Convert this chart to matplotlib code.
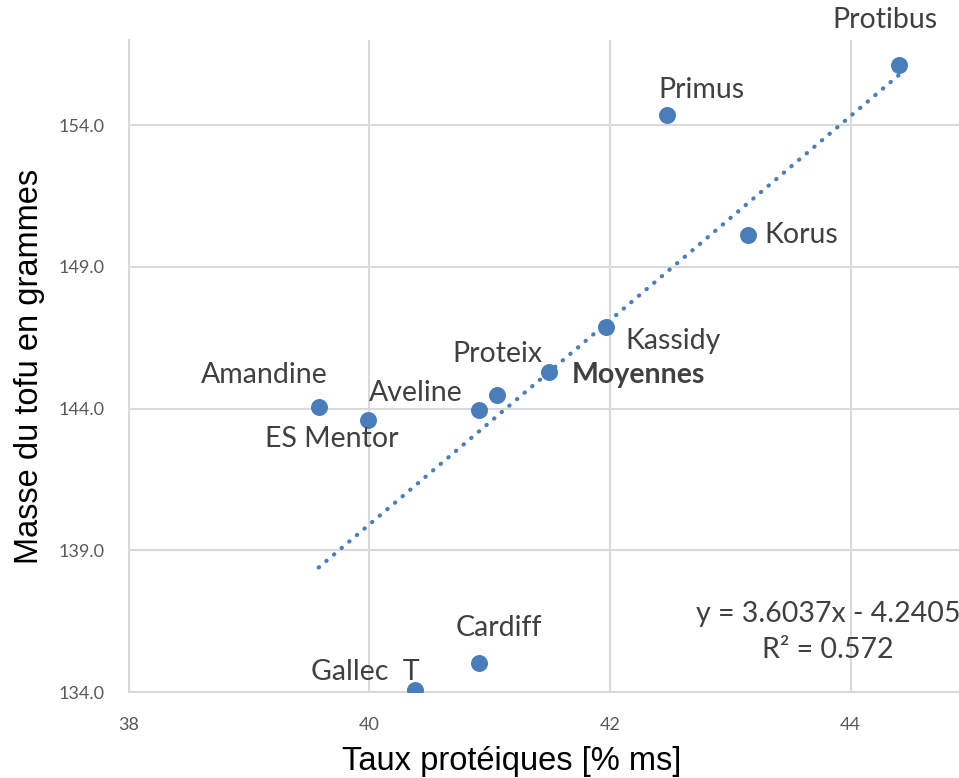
import matplotlib.pyplot as plt
import numpy as np

# variétés de soja
noms = ['Protibus', 'Primus', 'Korus', 'Kassidy', 'Moyennes', 'Proteix',
        'Aveline', 'Amandine', 'ES Mentor', 'Cardiff', 'Gallec  T']
# taux protéiques [% ms]
proteines = [44.40, 42.47, 43.15, 41.97, 41.49, 41.06, 40.91, 39.58, 39.99, 40.91, 40.38]
# masse du tofu [g]
masse = [156.12, 154.35, 150.12, 146.87, 145.29, 144.48, 143.95, 144.05, 143.59, 135.02, 134.07]

# courbe de tendance (Excel)
pente = 3.6037
ordonnee = -4.2405
r2 = 0.572

bleu = '#4A7EBB'
gris = '#D9D9D9'

fig = plt.figure(figsize=(9.59, 7.78), dpi=100)
ax = fig.add_axes([0.134, 0.1105, 0.866, 0.838])

x_tend = np.array([min(proteines), max(proteines)])
ax.plot(x_tend, pente * x_tend + ordonnee, color=bleu, lw=3,
        linestyle=(0, (0.1, 2.3)), dash_capstyle='round', zorder=2)
ax.scatter(proteines, masse, s=150, color=bleu, zorder=3, linewidths=0)

# décalages des étiquettes (pixels)
decal = {
    'Protibus': (-14, 45, 'center'),
    'Primus': (35, 25, 'center'),
    'Korus': (16, 0, 'left'),
    'Kassidy': (67, -14, 'center'),
    'Moyennes': (23, -3, 'left'),
    'Proteix': (1, 41, 'center'),
    'Aveline': (-63, 17, 'center'),
    'Amandine': (-54, 32, 'center'),
    'ES Mentor': (-36, -19, 'center'),
    'Cardiff': (20, 35, 'center'),
    'Gallec  T': (-50, 18, 'center'),
}
for nom, xv, yv in zip(noms, proteines, masse):
    dx, dy, ha = decal[nom]
    ax.annotate(nom, (xv, yv), xytext=(dx, dy), textcoords='offset pixels',
                ha=ha, va='center', fontsize=20.5, family='Lato', color='#404040',
                fontweight='bold' if nom == 'Moyennes' else 'normal')

ax.text(0.842, 0.092, f'y = {pente}x - {abs(ordonnee)}\nR² = {r2}',
        transform=ax.transAxes, ha='center', va='center', fontsize=20.5,
        family='Lato', color='#404040', linespacing=1.45)

ax.set_xlim(38, 44.9)
ax.set_ylim(134, 157)
ax.set_xticks([38, 40, 42, 44])
ax.set_yticks([134, 139, 144, 149, 154])
ax.set_yticklabels([f'{v:.1f}' for v in [134, 139, 144, 149, 154]])
ax.tick_params(length=0, labelsize=13, labelcolor='#595959')
ax.tick_params(axis='x', pad=18)
ax.tick_params(axis='y', pad=17)
for lab in ax.get_xticklabels() + ax.get_yticklabels():
    lab.set_family('Lato')

ax.grid(True, color=gris, lw=1.5)
ax.set_axisbelow(True)
for s in ['top', 'right']:
    ax.spines[s].set_visible(False)
for s in ['left', 'bottom']:
    ax.spines[s].set_color(gris)
    ax.spines[s].set_linewidth(1.5)

fig.text(0.534, 0.0105, 'Taux protéiques [% ms]', ha='center', va='baseline',
         fontsize=23.5, family='Liberation Sans')
ax.set_ylabel('Masse du tofu en grammes', fontsize=23.5, family='Liberation Sans', labelpad=10)

fig.savefig('out.png', dpi=100)
